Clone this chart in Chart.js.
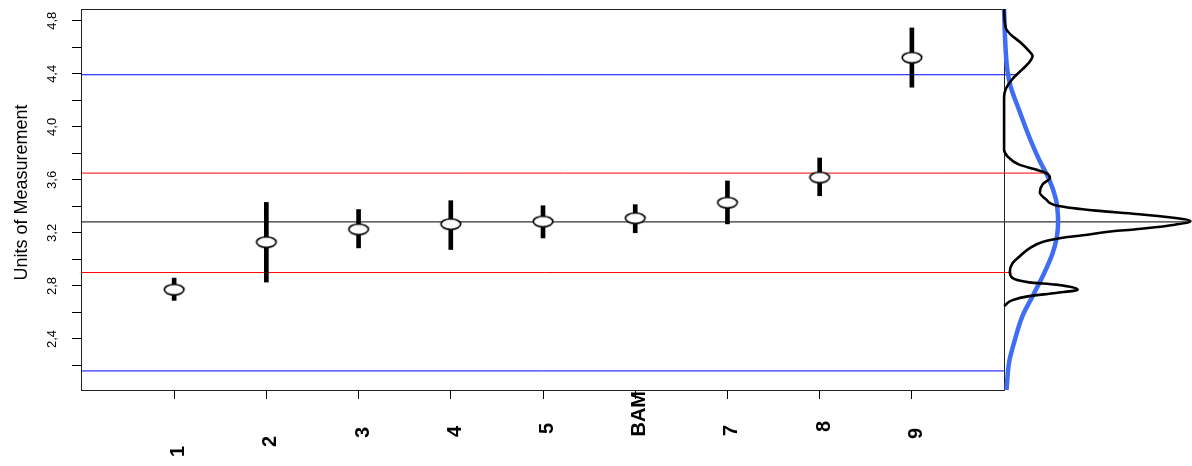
<!DOCTYPE html>
<html>
<head>
<meta charset="utf-8">
<style>
html, body { margin: 0; padding: 0; background: #fff; }
#wrap { width: 1192px; height: 466px; position: relative; }
</style>
<script src="https://cdn.jsdelivr.net/npm/chart.js@4"></script>
</head>
<body>
<div id="wrap"><canvas id="chart"></canvas></div>
<script>
// labs on the x axis, in plot order
const categories = ['1', '2', '3', '4', '5', 'BAM', '7', '8', '9'];
const catPos = [1, 2, 3, 4, 5, 6, 7, 8, 9];
const means  = [2.772, 3.130, 3.227, 3.266, 3.286, 3.311, 3.428, 3.618, 4.522];
const lowers = [2.691, 2.829, 3.087, 3.075, 3.162, 3.201, 3.268, 3.480, 4.299];
const uppers = [2.859, 3.430, 3.376, 3.443, 3.405, 3.413, 3.592, 3.765, 4.746];

// horizontal limits
const centerValue = 3.283;
const innerLimits = [2.901, 3.651];
const outerLimits = [2.159, 4.393];
// share of the density peak reached by each line in the side panel
const centerReach = 1.0;
const innerReach = [0.031, 0.224];
const outerReach = [0.0, 0.068];

// kernel density of the results (black) and normal curve (blue)
const kernelValue = [4.889, 4.746, 4.696, 4.634, 4.571, 4.534, 4.485, 4.435, 4.361, 4.286, 4.224, 3.827, 3.778, 3.715, 3.678, 3.653, 3.616, 3.566, 3.504, 3.454, 3.405, 3.368, 3.343, 3.318, 3.288, 3.256, 3.227, 3.212, 3.182, 3.164, 3.132, 3.082, 3.020, 2.971, 2.909, 2.859, 2.827, 2.810, 2.772, 2.747, 2.723, 2.693, 2.648];
const kernelHeight = [0, 0.009, 0.036, 0.090, 0.134, 0.153, 0.134, 0.099, 0.045, 0.009, 0, 0, 0.018, 0.081, 0.170, 0.224, 0.246, 0.206, 0.192, 0.224, 0.287, 0.493, 0.708, 0.887, 1.0, 0.887, 0.708, 0.583, 0.422, 0.314, 0.206, 0.134, 0.081, 0.045, 0.031, 0.045, 0.134, 0.278, 0.395, 0.278, 0.134, 0.045, 0];
const normalValue = [4.889, 4.671, 4.422, 4.299, 4.125, 3.927, 3.752, 3.603, 3.454, 3.368, 3.281, 3.169, 3.045, 2.896, 2.723, 2.574, 2.375, 2.226, 2.015];
const normalHeight = [0, 0.005, 0.018, 0.036, 0.081, 0.134, 0.188, 0.242, 0.278, 0.287, 0.290, 0.283, 0.260, 0.215, 0.153, 0.099, 0.054, 0.027, 0.013];

const yTicks = [2.2, 2.4, 2.6, 2.8, 3.0, 3.2, 3.4, 3.6, 3.8, 4.0, 4.2, 4.4, 4.6, 4.8];
const yMin = 2.015, yMax = 4.889;
const xMin = -0.01, xMax = 11.94;
const panelEdge = 10;      // where the main box ends and the density panel starts
const panelWidth = 2.02;   // x units used by the density peak
// how far below the axis each rotated label ends (px)
const labelDrop = [56, 46, 37, 36, 33, 1, 35, 31, 38];

const toPanel = h => panelEdge + h * panelWidth;

// ellipse marker
const marker = document.createElement('canvas');
marker.width = 24; marker.height = 14;
(function () {
  const c = marker.getContext('2d');
  c.beginPath();
  c.ellipse(12, 7, 9.8, 5.3, 0, 0, Math.PI * 2);
  c.fillStyle = '#fff'; c.fill();
  c.lineWidth = 1.6; c.strokeStyle = '#000'; c.stroke();
})();

function hline(value, reach, color, width, order) {
  return {
    type: 'line',
    data: [{ x: xMin, y: value }, { x: toPanel(reach), y: value }],
    borderColor: color, borderWidth: width, pointRadius: 0, order: order,
    clip: false
  };
}

const frame = {
  id: 'frame',
  beforeDatasetsDraw(chart) {
    const { ctx, chartArea, scales: { x } } = chart;
    const right = Math.round(x.getPixelForValue(panelEdge)) + 0.5;
    const left = Math.round(chartArea.left) + 0.5;
    const top = Math.round(chartArea.top) + 0.5;
    const bottom = Math.round(chartArea.bottom) + 0.5;
    ctx.save();
    ctx.strokeStyle = '#222';
    ctx.lineWidth = 1;
    ctx.strokeRect(left, top, right - left, bottom - top);
    ctx.restore();
  },
  afterDraw(chart) {
    const { ctx, chartArea, scales: { x, y } } = chart;
    ctx.save();
    ctx.fillStyle = '#000';
    // x labels, rotated, bold
    ctx.font = 'bold 20px "Liberation Sans", Arial, sans-serif';
    ctx.textAlign = 'right';
    ctx.textBaseline = 'middle';
    categories.forEach((lab, i) => {
      ctx.save();
      ctx.translate(x.getPixelForValue(catPos[i]) + 4.5, chartArea.bottom + labelDrop[i]);
      ctx.rotate(-Math.PI / 2);
      ctx.fillText(lab, 0, 0);
      ctx.restore();
    });
    // y labels, rotated
    ctx.font = '13px "Liberation Sans", Arial, sans-serif';
    ctx.textAlign = 'center';
    yTicks.forEach(v => {
      if (Math.round(v * 10) % 4 !== 0) return;
      ctx.save();
      ctx.translate(52, y.getPixelForValue(v));
      ctx.rotate(-Math.PI / 2);
      ctx.fillText(v.toFixed(1).replace('.', ','), 0, 0);
      ctx.restore();
    });
    // axis title
    ctx.font = '18px "Liberation Sans", Arial, sans-serif';
    ctx.save();
    ctx.translate(22.5, (chartArea.top + chartArea.bottom) / 2 - 7);
    ctx.rotate(-Math.PI / 2);
    ctx.fillText('Units of Measurement', 0, 0);
    ctx.restore();
    ctx.restore();
  }
};

new Chart(document.getElementById('chart'), {
  type: 'line',
  data: {
    datasets: [
      {
        type: 'line',
        data: catPos.map((p, i) => ({ x: p, y: means[i] })),
        showLine: false,
        pointStyle: marker,
        pointRadius: 8,
        order: 0
      },
      {
        type: 'bar',
        data: catPos.map((p, i) => ({ x: p, y: [lowers[i], uppers[i]] })),
        backgroundColor: '#000',
        borderWidth: 0,
        barThickness: 4,
        order: 1
      },
      {
        type: 'line',
        indexAxis: 'y',
        data: kernelValue.map((v, i) => ({ x: toPanel(kernelHeight[i]), y: v })),
        borderColor: '#000', borderWidth: 2.6, pointRadius: 0,
        cubicInterpolationMode: 'monotone',
        clip: false,
        order: 2
      },
      {
        type: 'line',
        indexAxis: 'y',
        data: normalValue.map((v, i) => ({ x: toPanel(normalHeight[i]), y: v })),
        borderColor: '#3f6ef5', borderWidth: 4.5, pointRadius: 0,
        cubicInterpolationMode: 'monotone',
        clip: false,
        order: 3
      },
      hline(centerValue, centerReach, '#333', 1.2, 4),
      hline(innerLimits[0], innerReach[0], '#ff0000', 1, 4),
      hline(innerLimits[1], innerReach[1], '#ff0000', 1, 4),
      hline(outerLimits[0], outerReach[0], '#0000ff', 1, 4),
      hline(outerLimits[1], outerReach[1], '#0000ff', 1, 4)
    ]
  },
  options: {
    responsive: true,
    maintainAspectRatio: false,
    animation: false,
    layout: { padding: { top: 4, right: 0, left: 0, bottom: 0 } },
    plugins: { legend: { display: false }, tooltip: { enabled: false } },
    scales: {
      x: {
        type: 'linear', min: xMin, max: xMax, offset: false,
        afterBuildTicks: s => { s.ticks = catPos.map(v => ({ value: v })); },
        afterFit: s => { s.height = 76; },
        ticks: { display: false },
        border: { display: false },
        grid: { offset: false, drawOnChartArea: false, drawTicks: true, tickLength: 9, color: '#000', lineWidth: 1 }
      },
      y: {
        type: 'linear', min: yMin, max: yMax,
        afterBuildTicks: s => { s.ticks = yTicks.map(v => ({ value: v })); },
        afterFit: s => { s.width = 81; },
        ticks: { display: false },
        border: { display: false },
        grid: { offset: false, drawOnChartArea: false, drawTicks: true, tickLength: 9, color: '#000', lineWidth: 1 }
      }
    }
  },
  plugins: [frame]
});
</script>
</body>
</html>
